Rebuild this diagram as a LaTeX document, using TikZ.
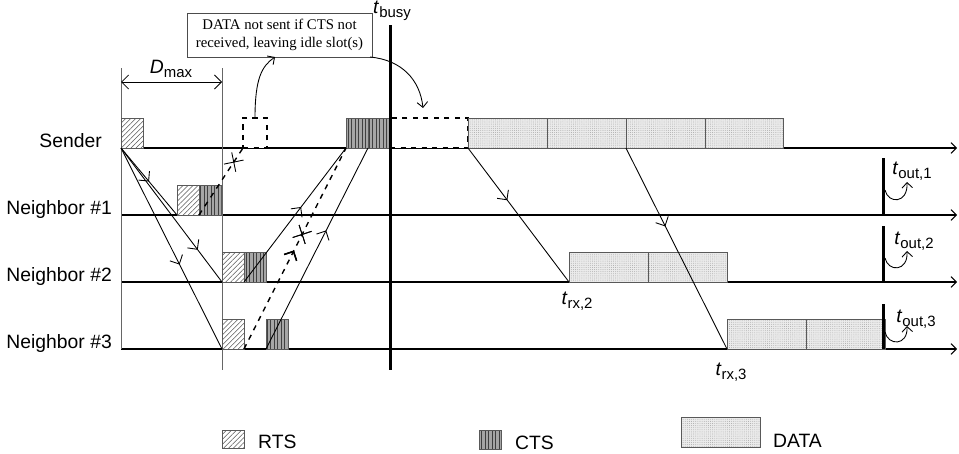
\documentclass[tikz,border=0pt]{standalone}
\usepackage{fontspec}
\setsansfont{Liberation Sans}
\newfontfamily\notefont{Liberation Serif}
\usetikzlibrary{arrows.meta,positioning,decorations.markings,patterns.meta}

\newcommand{\tsub}[1]{\textit{t}\raisebox{-0.4ex}{\fontsize{8.5}{9}\selectfont #1}}

\begin{document}
\begin{tikzpicture}[
  x=0.02cm, y=-0.02cm,
  font=\sffamily\fontsize{11}{13}\selectfont,
  >={Straight Barb[length=3pt,width=6pt]},
  block/.style={
    draw=black!65, line width=0.5pt, anchor=south west,
    minimum height=0.6cm, inner sep=0pt, outer sep=0pt
  },
  rts/.style={block, minimum width=0.44cm, preaction={fill=white},
    pattern={Lines[angle=45,distance=2pt,line width=0.3pt]}, pattern color=black!65},
  cts/.style={block, minimum width=0.44cm, preaction={fill=black!35},
    pattern={Lines[angle=90,distance=2pt,line width=0.35pt]}, pattern color=black!75},
  data/.style={block, minimum width=1.58cm, preaction={fill=black!8},
    pattern={Dots[distance=1.2pt,radius=0.25pt]}, pattern color=black!35},
  idle/.style={block, draw=black, dashed, line width=0.7pt, fill=white},
  axis/.style={->, line width=0.6pt},
  guide/.style={black!60, line width=0.5pt},
  busy/.style={line width=1.7pt},
  sig/.style={line width=0.5pt},
  lost/.style={sig, dashed, line width=0.8pt},
  arrowat/.style={postaction={decorate}, decoration={markings,
    mark=at position #1 with {\arrow{Straight Barb[length=4pt,width=8pt]}}}},
  crossat/.style={postaction={decorate}, decoration={markings,
    mark=at position #1 with {\draw[solid,line width=0.5pt] (-4pt,-4pt)--(4pt,4pt) (-4pt,4pt)--(4pt,-4pt);}}}
]
  \useasboundingbox (0,0) rectangle (959,453);

  % time axes
  \foreach \n/\y in {s/148, n1/215, n2/282, n3/349} {
    \coordinate (\n L) at (121,\y);
    \coordinate (\n R) at (957,\y);
    \draw[axis] (\n L) -- (\n R);
  }
  \node[anchor=base east] (lblS) at (108,147) {Sender};
  \node[anchor=base east] (lblN1) at (118,214) {Neighbor \#1};
  \node[anchor=base east] (lblN2) at (118,281) {Neighbor \#2};
  \node[anchor=base east] (lblN3) at (118,348) {Neighbor \#3};

  % guides
  \coordinate (g1t) at (121,68);
  \coordinate (g2t) at (222,68);
  \coordinate (g2b) at (222,370);
  \draw[guide] (g1t) -- (n3L);
  \draw[guide] (g2t) -- (g2b);
  \coordinate (dmL) at (121,82);
  \coordinate (dmR) at (222,82);
  \draw[sig, {Straight Barb[length=4pt,width=8pt]}-{Straight Barb[length=4pt,width=8pt]}] (dmL) -- (dmR);
  \node (dmax) at (171,69) {\textit{D}\raisebox{-0.4ex}{\fontsize{8.5}{9}\selectfont max}};

  % sender
  \node[rts] (sRTS) at (sL) {};
  \node[idle, minimum width=0.48cm] (sDash) at (243,148) {};
  \node[cts] (sCTS1) at (346,148) {};
  \node[cts, right=0pt of sCTS1] (sCTS2) {};
  \node[idle, minimum width=1.56cm, right=0pt of sCTS2] (sIdle) {};
  \node[data, right=0pt of sIdle] (sD1) {};
  \node[data, right=0pt of sD1] (sD2) {};
  \node[data, right=0pt of sD2] (sD3) {};
  \node[data, right=0pt of sD3] (sD4) {};

  % neighbors
  \node[rts] (n1RTS) at (177,215) {};
  \node[cts, right=0pt of n1RTS] (n1CTS) {};
  \node[rts] (n2RTS) at (222,282) {};
  \node[cts, right=0pt of n2RTS] (n2CTS) {};
  \node[data] (n2D1) at (569,282) {};
  \node[data, right=0pt of n2D1] (n2D2) {};
  \node[rts] (n3RTS) at (222,349) {};
  \node[cts] (n3CTS) at (266,349) {};
  \node[data] (n3D1) at (727,349) {};
  \node[data, right=0pt of n3D1] (n3D2) {};

  % t_busy
  \coordinate (busyT) at (390,25);
  \coordinate (busyB) at (390,370);
  \draw[busy] (busyT) -- (busyB);
  \node (tbusy) at (392,11) {\tsub{busy}};

  % signals
  \draw[sig, arrowat=0.5] (sRTS.south west) -- (n1RTS.south west);
  \draw[sig, arrowat=0.76] (sRTS.south west) -- (n2RTS.south west);
  \draw[sig, arrowat=0.58] (sRTS.south west) -- (n3RTS.south west);
  \draw[lost, crossat=0.79] (n1CTS.south west) -- (sDash.south west);
  \draw[sig, arrowat=0.56] (n2CTS.south west) -- (sCTS1.south west);
  \draw[lost, arrowat=0.49, crossat=0.57] (n3RTS.south east) -- (sCTS1.south west);
  \draw[sig, arrowat=0.59] (n3CTS.south west) -- (sCTS2.south west);
  \draw[sig, arrowat=0.39] (sIdle.south east) -- (n2D1.south west);
  \draw[sig, arrowat=0.39] (sD2.south east) -- (n3D1.south west);
  \node[anchor=north] (trx2) at (577,286) {\tsub{rx,2}};
  \node[anchor=north] (trx3) at (731,357) {\tsub{rx,3}};

  % note
  \node[draw=black!70, line width=0.5pt, align=center, minimum width=3.7cm, minimum height=0.88cm,
    inner sep=2pt, font=\notefont\fontsize{8.4}{9.8}\selectfont] (note) at (279.5,35)
    {DATA not sent if CTS not\\received, leaving idle slot(s)};
  \coordinate (noteIn) at (275,57);
  \coordinate (noteOut) at (370,57);
  \coordinate (idleIn) at (423,108);
  \draw[sig, ->] (sDash.north) .. controls (255,78) and (262,66) .. (noteIn);
  \draw[sig, ->] (noteOut) .. controls (402,60) and (420,80) .. (idleIn);

  % t_out
  \foreach \i/\top/\lo in {1/158/n1L, 2/226/n2L, 3/304/n3L} {
    \coordinate (o\i t) at (883,\top);
    \draw[busy] (o\i t) -- (o\i t |- \lo);
  }
  \foreach \i/\ya/\yb in {1/190/182, 2/258/251, 3/332/326} {
    \coordinate (o\i a) at (885,\ya);
    \coordinate (o\i b) at (907,\yb);
    \draw[sig, ->] (o\i a) .. controls (888,\ya+14) and (908,\ya+14) .. (o\i b);
  }
  \node (tout1) at (912,171) {\tsub{out,1}};
  \node (tout2) at (914,241) {\tsub{out,2}};
  \node (tout3) at (916,319) {\tsub{out,3}};

  % legend
  \node[rts, minimum height=0.36cm] (kRTS) at (222,448) {};
  \node[right=0.16cm of kRTS.south east, anchor=base west] (kRTSt) {RTS};
  \node[cts, minimum height=0.38cm] (kCTS) at (479,449) {};
  \node[right=0.16cm of kCTS.south east, anchor=base west] (kCTSt) {CTS};
  \node[data, minimum height=0.6cm] (kDATA) at (681,447) {};
  \node[right=0.14cm of kDATA.south east, anchor=base west] (kDATAt) {DATA};
\end{tikzpicture}
\end{document}
